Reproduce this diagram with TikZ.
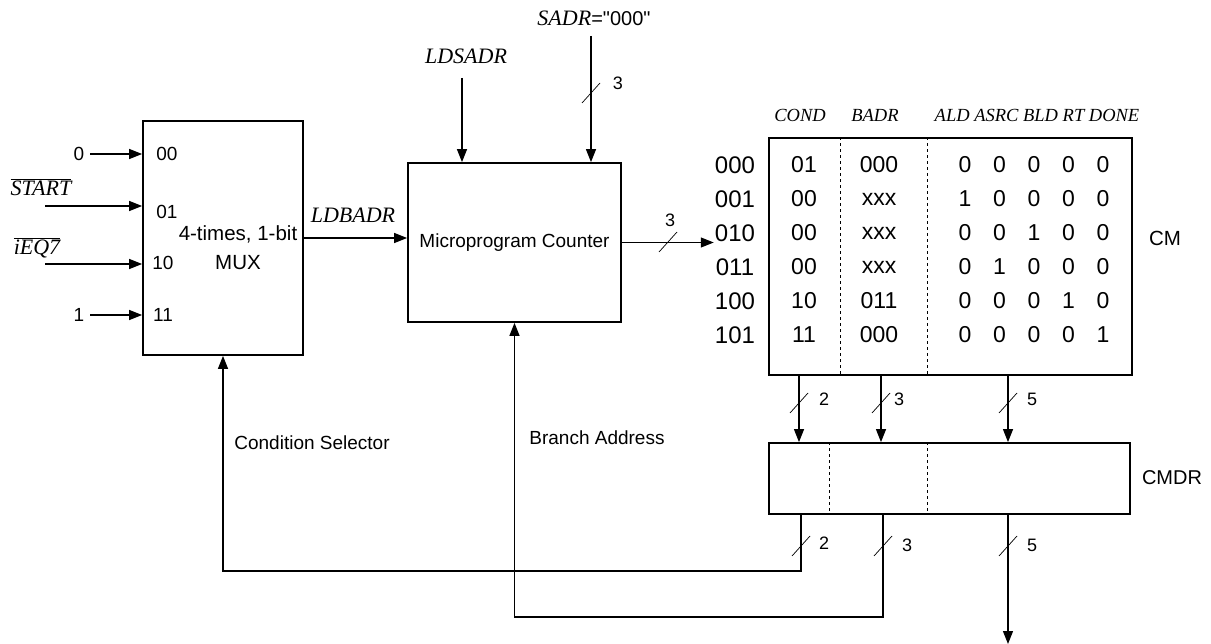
\documentclass[tikz,border=0pt]{standalone}
\usepackage{fontspec}
\setmainfont{Liberation Sans}
\newfontfamily\tnr{Liberation Serif}
\usetikzlibrary{positioning,calc,arrows.meta}
\newcommand{\dq}{\XeTeXglyph\XeTeXcharglyph"22\relax}

\begin{document}
\begin{tikzpicture}[x=1pt,y=-1pt,
  blk/.style={draw,line width=1.8pt,inner sep=0pt},
  wire/.style={line width=1.2pt},
  arr/.style={wire,-{Triangle[length=13pt,width=10pt]}},
  slash/.style={line width=0.7pt},
  txt/.style={font=\fontsize{19}{22}\selectfont,inner sep=1pt},
  big/.style={font=\fontsize{23}{26}\selectfont,inner sep=1pt},
  sg/.style={font=\tnr\fontsize{22}{24}\selectfont\itshape,inner sep=1pt},
  hd/.style={font=\tnr\fontsize{18.5}{20}\selectfont\itshape,inner sep=1pt}]
  \useasboundingbox (0,0) rectangle (1211,644);

  % multiplexer
  \node[blk,minimum width=160,minimum height=234] (mux) at (223,238) {};
  \node[txt,align=center,font=\fontsize{20.5}{29}\selectfont] (muxt) at (238,247.5) {4-times, 1-bit\\MUX};
  \node[txt] (p0) at (167,154) {00};
  \node[txt] (p1) at (167,212) {01};
  \node[txt] (p2) at (163,263) {10};
  \node[txt] (p3) at (163,315) {11};
  \node[txt,inner xsep=6pt] (i0) at (79,154) {0};
  \node[txt,inner xsep=6pt] (i3) at (79,315) {1};
  \node[sg] (st) at (41,187) {$\overline{\hbox{\tnr\itshape START}}$};
  \node[sg] (eq) at (37,248) {$\overline{\hbox{\tnr\itshape iEQ7}}$};
  \coordinate (i1) at (45,206);
  \coordinate (i2) at (45,264);
  \foreach \s in {i0,i1,i2,i3}
    \draw[arr] (\s) -- (\s -| mux.west);

  % counter
  \node[blk,minimum width=213,minimum height=159,txt] (pc) at (514.5,242.5) {Microprogram Counter};
  \draw[arr] (mux.east) -- (mux.east -| pc.west);
  \node[sg] (ldb) at (353,215) {LDBADR};
  \node[sg] (lds) at (466,56) {LDSADR};
  \coordinate (ldt) at (462,78);
  \draw[arr] (ldt) -- (ldt |- pc.north);
  \node[sg] (sadr) at (594,18) {SADR\normalfont\fontsize{20}{22}\selectfont=\dq000\dq};
  \coordinate (sat) at (591,36);
  \draw[arr] (sat) -- (sat |- pc.north);

  % control memory
  \node[blk,minimum width=363,minimum height=237] (cm) at (950.5,256.5) {};
  \foreach \x in {840,927}
    \draw[dashed,line width=0.8pt] (\x,0 |- cm.north) -- (\x,0 |- cm.south);
  \node[hd] (hc) at (800,115) {COND};
  \node[hd] (hb) at (875,115) {BADR};
  \node[hd] (hs) at (1037,115) {ALD ASRC BLD RT DONE};
  \foreach \i/\a/\c/\b/\v in {0/000/01/000/{0,0,0,0,0},1/001/00/xxx/{1,0,0,0,0},
      2/010/00/xxx/{0,0,1,0,0},3/011/00/xxx/{0,1,0,0,0},
      4/100/10/011/{0,0,0,1,0},5/101/11/000/{0,0,0,0,1}} {
    \node[big,font=\fontsize{24}{26}\selectfont] (r\i) at (735,165+34*\i) {\a};
    \node[big] (c\i) at (804,165+34*\i) {\c};
    \node[big] (b\i) at (879,165+34*\i) {\b};
    \foreach \d [count=\j from 0] in \v
      \node[big] (v\i\j) at (965+34.5*\j,165+34*\i) {\d};
  }
  \node[txt,font=\fontsize{20.5}{22}\selectfont] (cml) at (1165,238) {CM};
  \draw[arr] (pc.east) -- (pc.east -| r2.west);

  % control memory data register
  \node[blk,minimum width=361,minimum height=71] (cmdr) at (949.5,478.5) {};
  \foreach \x in {829,927}
    \draw[dashed,line width=0.8pt] (\x,0 |- cmdr.north) -- (\x,0 |- cmdr.south);
  \node[txt,font=\fontsize{20}{22}\selectfont] (cmdrl) at (1172,478) {CMDR};
  \foreach \x in {799,881,1008}
    \draw[arr] (\x,0 |- cm.south) -- (\x,0 |- cmdr.north);

  % feedback
  \draw[arr] (801,0 |- cmdr.south) |- (mux.south |- 0,571) -- (mux.south);
  \draw[arr] (883,0 |- cmdr.south) |- (pc.south |- 0,617) -- (pc.south);
  \coordinate (out) at (1008,644);
  \draw[arr] (out |- cmdr.south) -- (out);
  \node[txt] (csel) at (312,443) {Condition Selector};
  \node[txt] (badr) at (597,438) {Branch Address};

  % bus widths
  \foreach \x/\y/\n/\lx/\ly [count=\k] in {591/93/3/618/83,668/242/3/670/220,
      799/403/2/824/399,881/403/3/899/399,1008/403/5/1032/399,
      801/546/2/824/543,883/546/3/907/545,1008/546/5/1032/545}
    \draw[slash] (\x,\y) +(-9,10) -- +(9,-10) (\lx,\ly) node[txt,font=\fontsize{18}{20}\selectfont] (w\k) {\n};
\end{tikzpicture}
\end{document}
